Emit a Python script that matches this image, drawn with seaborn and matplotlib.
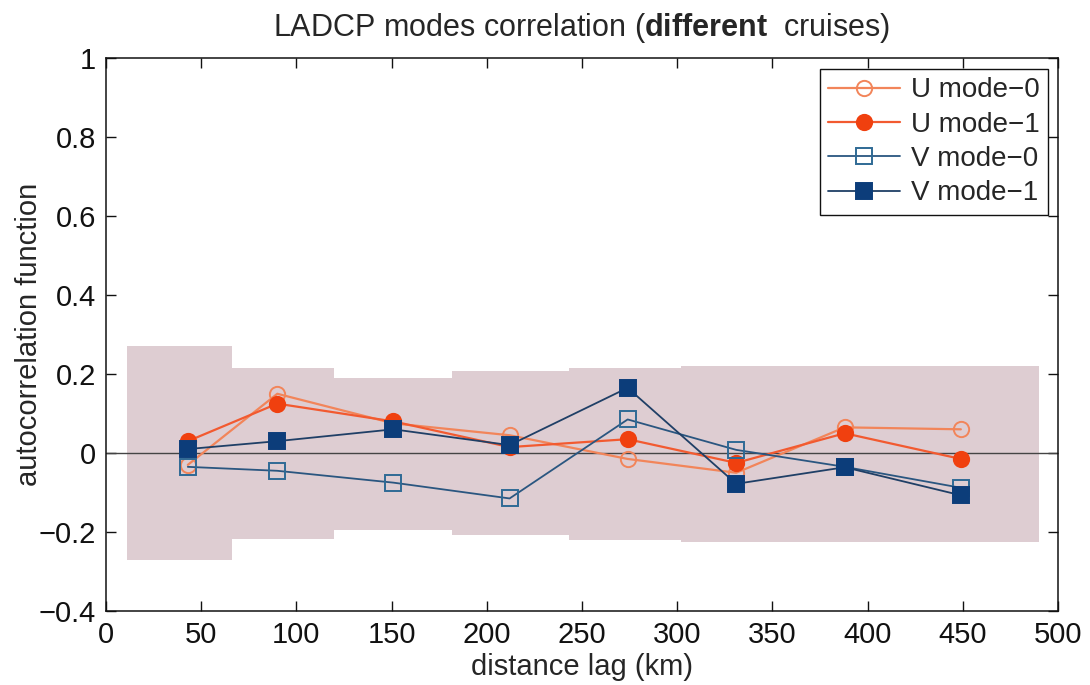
import numpy as np
import pandas as pd
import matplotlib
matplotlib.use("Agg")
import matplotlib.pyplot as plt
import seaborn as sns

# ---- data ----
lags = [43, 90, 151, 212, 274, 331, 388, 449]
u_mode0 = [-0.03, 0.15, 0.075, 0.045, -0.015, -0.05, 0.065, 0.06]
u_mode1 = [0.03, 0.125, 0.08, 0.015, 0.035, -0.025, 0.05, -0.015]
v_mode0 = [-0.035, -0.045, -0.075, -0.115, 0.085, 0.008, -0.035, -0.088]
v_mode1 = [0.01, 0.03, 0.06, 0.02, 0.165, -0.078, -0.036, -0.107]

band_edges = [11, 66, 120, 182, 243, 302, 360, 420, 490]
band_upper = [0.27, 0.215, 0.19, 0.208, 0.215, 0.22, 0.22, 0.22]
band_lower = [-0.27, -0.218, -0.195, -0.207, -0.22, -0.225, -0.225, -0.225]

xticks = [0, 50, 100, 150, 200, 250, 300, 350, 400, 450, 500]
yticks = [-0.4, -0.2, 0, 0.2, 0.4, 0.6, 0.8, 1]
ytick_labels = ["\u22120.4", "\u22120.2", "0", "0.2", "0.4", "0.6", "0.8", "1"]

sns.set_style("white")
plt.rcParams["font.family"] = ["Liberation Sans", "DejaVu Sans"]
plt.rcParams["mathtext.fontset"] = "custom"
plt.rcParams["mathtext.bf"] = "Liberation Sans:bold"
plt.rcParams["mathtext.rm"] = "Liberation Sans"

fig = plt.figure(figsize=(10.9, 6.85), dpi=100)
ax = fig.add_axes([0.0972, 0.108, 0.8734, 0.8073])

# significance band
bx = band_edges
bu = band_upper + [band_upper[-1]]
bl = band_lower + [band_lower[-1]]
ax.fill_between(bx, bl, bu, step="post", color="#decdd2", lw=0, zorder=1)

# zero line
ax.axhline(0, color="#444444", lw=1.0, zorder=2)

series = [
    ("U mode\u22120", u_mode0, "o", "#f2855a", "none", "#f2855a", 1.6),
    ("U mode\u22121", u_mode1, "o", "#f25a30", "#f0400f", "#f0400f", 1.6),
    ("V mode\u22120", v_mode0, "s", "#2a5680", "none", "#2f6a95", 1.3),
    ("V mode\u22121", v_mode1, "s", "#1f3f66", "#0c3d7a", "#0c3d7a", 1.3),
]
for label, vals, mk, lc, mfc, mec, lw in series:
    df = pd.DataFrame({"lag": lags, "acf": vals})
    sns.lineplot(data=df, x="lag", y="acf", ax=ax, label=label, color=lc,
                 marker=mk, markersize=11, markerfacecolor=mfc,
                 markeredgecolor=mec, markeredgewidth=1.4, lw=lw, zorder=3)

ax.set_xlim(0, 500)
ax.set_ylim(-0.4, 1)
ax.set_xticks(xticks)
ax.set_xticklabels([str(t) for t in xticks])
ax.set_yticks(yticks)
ax.set_yticklabels(ytick_labels)
ax.tick_params(direction="in", length=7, width=1, labelsize=21, pad=7,
               top=True, right=True, bottom=True, left=True, colors="#111111")
for s in ax.spines.values():
    s.set_visible(True)
    s.set_color("#111111")
    s.set_linewidth(1.1)

ax.set_xlabel("distance lag (km)", fontsize=21, labelpad=3)
ax.set_ylabel("autocorrelation function", fontsize=21, labelpad=-3)
ax.set_title(r"LADCP modes correlation ($\bf{different}$  cruises)", fontsize=22, pad=16)

leg = ax.legend(loc="upper right", bbox_to_anchor=(0.99, 0.98), borderaxespad=0,
                fontsize=20, frameon=True, fancybox=False, framealpha=1,
                edgecolor="#111111", labelspacing=0.3, handlelength=2.6,
                handletextpad=0.4, borderpad=0.3)
leg.get_frame().set_linewidth(1.0)

fig.savefig("out.png", dpi=100)
